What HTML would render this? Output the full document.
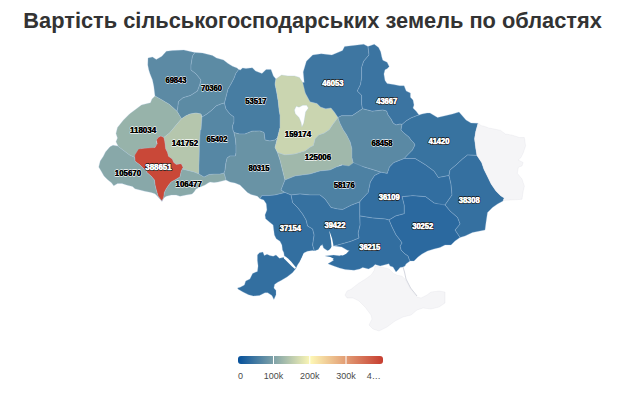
<!DOCTYPE html>
<html><head><meta charset="utf-8"><style>
html,body{margin:0;padding:0;background:#fff;width:620px;height:400px;overflow:hidden}
.t{position:absolute;left:0;top:0;width:620px;text-align:center;font:bold 21.8px "Liberation Sans",sans-serif;color:#333;white-space:nowrap}
svg{position:absolute;left:0;top:0}
polygon{stroke:#a9c6e2;stroke-width:1;stroke-opacity:0.28;stroke-linejoin:round}
polygon.wt{fill:#fff;stroke:none}
polygon.g{fill:#f5f5f7;stroke:#c9cbd5;stroke-width:0.6}
text{font:bold 9px "Liberation Sans",sans-serif;text-anchor:middle;paint-order:stroke;stroke-linejoin:round}
text.b{fill:#000;stroke:#fff;stroke-width:1.5;stroke-opacity:0.9}
text.w{fill:#fff;stroke:#000;stroke-width:1.8}
text.w2{fill:#fff;stroke:#fff;stroke-width:0.35}
text.b2{fill:#000;stroke:#000;stroke-width:0.15}
.lg{font:9px "Liberation Sans",sans-serif;fill:#4a4a4a;stroke:none}
</style></head><body>
<div class="t" style="top:7.9px;left:2.6px">Вартість сільськогосподарських земель по областях</div>
<svg width="620" height="400" viewBox="0 0 620 400">
<defs><linearGradient id="gr" x1="0" x2="1" y1="0" y2="0">
<stop offset="0" stop-color="#05509b"/><stop offset="0.5" stop-color="#fdf7b5"/><stop offset="1" stop-color="#c63d30"/></linearGradient></defs>
<polygon points="148,58 152.5,57 156.3,59.4 161.9,56.3 166.3,51.3 172.5,50.6 183.8,50 192.5,52 195,52.5 192.5,56 191,65 191,70 196,73.8 201,80 200,84 197.5,91 190.5,95.5 183,97.8 178.5,101.5 177.8,107.5 177,111.3 169.5,104.5 162,100 155,96 153.8,86.3 152.5,80 150,73.8 148.8,70 147.8,65" fill="#5c8aa4"/>
<polygon points="195,52.5 202.5,53.1 212.5,55.6 216.5,58 223.5,60 228,63.4 232.5,66.2 237,67.9 238.7,69.6 235.8,73.5 234.2,78 231.3,83.6 228,89.2 226.3,96 224.5,103 221,104 216,106 212,110 207,114 202,117 201,114 196,113 190,114 186,115.8 181.5,118.8 177,111.3 177.8,107.5 178.5,101.5 183,97.8 190.5,95.5 197.5,91 200,84 201,80 196,73.8 191,70 191,65 192.5,56" fill="#5c8ba4"/>
<polygon points="155,96 152,99 150.5,102.75 141.5,105 135.5,109.5 129.5,114 123.5,120 117.5,127.5 116,133.5 117.5,138 116,141.75 118.25,146.25 117.5,146 123.5,150.5 129.5,155 134.7,157.5 137.5,152.5 141.25,148.75 148.75,148.75 154.4,147.8 157.2,145 156.25,141.25 158.1,137.5 160.9,136 163.75,137.5 169.5,133 177,124 181.5,118.8 177,111.3 169.5,104.5 162,100" fill="#97b3aa"/>
<polygon points="181.5,118.8 186,115.8 190,114 196,113 201,114 202,118 201,130 200.3,130 199.5,145 199,165 199,174 194,172 190,171 186,170 182,169 183.1,167.5 181.25,163.75 176.25,164.4 173.75,162.5 172.2,159 168.4,156.25 167.5,152.5 165.6,148.75 164.7,141.25 163.75,137.5 169.5,133 177,124" fill="#b5c6ad"/>
<polygon points="158.1,137.5 160.9,136 163.75,137.5 164.7,141.25 165.6,148.75 167.5,152.5 168.4,156.25 172.2,159 173.75,162.5 176.25,164.4 181.25,163.75 183.1,167.5 181.25,171.25 180,176.9 175,180 171.25,181.9 168.75,185 166.25,188.75 164.4,192.5 163.75,197.5 161.9,201.25 158.1,196.25 156.25,190 155,185 154.4,180 151.25,176.25 146.9,172.5 146.25,170.6 143.75,168.75 140,165 135,161.25 134.7,157.5 134.75,155 138.5,149 144.5,148.25 155,147.5 157.25,143.75 156.5,140" fill="#c94838"/>
<polygon points="117.5,146 123.5,150.5 129.5,155 134.7,157.5 135,161.25 140,165 143.75,168.75 146.25,170.6 146.9,172.5 151.25,176.25 154.4,180 155,185 156.25,190 158.1,196.25 161.9,201.25 157.5,196.25 155,193.75 151.25,192.5 145,191.25 140,190 135,188.75 132.5,186.5 126.5,185 122,183.5 117.5,183.5 113.75,185.75 111.5,182.75 107.75,179.75 104,176 101,170.75 98.75,167 100.25,161 103.25,156.5 105.5,152 110,146.75 113,145.25" fill="#88a8a9"/>
<polygon points="183.1,167.5 182,169 186,170 190,171 194,172 199,174 204,177 209,174.5 214,174 220,174 224,173 225,176 226,180 222,181 218,182 214,182.5 210,182 208,183 205,185 200,187 196,189 194,192 192,194 186,195 180,196.25 176.25,195 171.25,195 166.25,196.25 163.75,198 161.9,201.25 163.75,197.5 164.4,192.5 166.25,188.75 168.75,185 171.25,181.9 175,180 180,176.9 181.25,171.25" fill="#89a9a9"/>
<polygon points="202,117 207,114 212,110 216,106 221,104 224.5,103 226,109 230,114 234,117 234,122 232.5,126 233,130 234,132.6 235.4,138.8 236,145.6 236,152.5 235.4,156 229.9,156 227.1,158 225.8,163.5 225,170.4 224,173 220,174 214,174 209,174.5 204,177 199,174 199,165 199.5,145 200.3,130 201,130 202,118" fill="#5687a4"/>
<polygon points="238.7,69.6 240.3,70.1 242.6,67.9 246,68.4 252.3,67.8 255.5,71 262,73.5 266.1,69.4 271,69.4 273.4,75.9 275.9,79.1 275,84 276.7,92.2 278.3,101.9 279.1,110 280,115 280,127.5 277.5,137.5 275,140 270,141 265,140 264,132.5 260,131 252,131.2 245,134 239.5,134 234,132.6 233,130 232.5,126 234,122 234,117 230,114 226,109 224.5,103 226.3,96 228,89.2 231.3,83.6 234.2,78 235.8,73.5" fill="#477da2"/>
<polygon points="234,132.6 239.5,134 245,134 252,131.2 260,131 264,132.5 265,140 270,141 275,140 277.5,137.5 275,147.5 277.5,152.5 280,160 282.5,170 285,180 281,190 285,192.5 280,193.75 275,195 268.75,195.6 261.9,195.6 260,198.75 257.5,196.25 251,194.4 247.5,192.5 243.75,188.75 240,185 235,183 230,182 226,180 225,176 224,173 225,170.4 225.8,163.5 227.1,158 229.9,156 235.4,156 236,152.5 236,145.6 235.4,138.8" fill="#6993a5"/>
<polygon points="275.9,79.1 281.5,75.1 288,75.9 294.6,75.9 299.4,77.5 302.7,82.4 304.2,82.5 305.3,93.1 310,101.75 317,103.5 320.5,107 325.75,108.75 331,107.9 334.5,112.25 338,117.5 335.4,121 332.75,124.5 329.25,129.75 324,133.25 318.75,135 315.25,138.5 313.5,145.5 310,147.25 305,151 295,154 285,155 277.5,152.5 275,147.5 277.5,137.5 280,127.5 280,115 279.1,110 278.3,101.9 276.7,92.2 275,84" fill="#cad5b0"/>
<polygon points="277.5,152.5 285,155 295,154 305,151 310,147.25 313.5,145.5 315.25,138.5 318.75,135 324,133.25 329.25,129.75 332.75,124.5 335.4,121 338,117.5 339.75,122.75 343.25,129.75 346.75,135 350.25,142 352,149 352,157.75 353.75,164.75 350.25,167.4 341.5,164.75 336.4,167 330,170 320,171 310,174 295,176 285,180 282.5,170 280,160" fill="#a0b8ab"/>
<polygon points="302.7,82.4 304.2,82.5 303.2,71.9 306.4,61.2 312.7,54.9 321.2,53.8 331.9,54.9 342.5,50.6 344.6,46.4 355.2,45.3 363.7,44.2 368,46.4 369,54.9 363.7,61.2 361.6,67.6 361.6,78.2 360.5,84.6 357.3,91 361.6,95.2 361.6,103.7 362.5,108.75 357.25,112.25 352,115.75 341.5,115.75 338,117.5 334.5,112.25 331,107.9 325.75,108.75 320.5,107 317,103.5 310,101.75 305.3,93.1" fill="#3e76a1"/>
<polygon points="368,46.4 374.3,44.2 378.6,47.4 380.7,51.7 381.8,57 382.8,60.2 387.1,62.3 389.2,66.5 387.1,68.7 385,69.7 383.9,74 385,80.4 387.1,83.5 393.5,84.6 399.8,85.7 404.1,85.7 406.2,91 410.4,93.1 410.4,97.3 413,100 414,105 413,108 416,111 419,115 416,116 411,118 406,121 402,124.5 400,124 396,125 393,123 391,119 388,115 386.5,111 382.8,110.1 372.2,111.2 362.5,108.75 361.6,103.7 361.6,95.2 357.3,91 360.5,84.6 361.6,78.2 361.6,67.6 363.7,61.2 369,54.9" fill="#3b74a1"/>
<polygon points="338,117.5 341.5,115.75 352,115.75 357.25,112.25 362.5,108.75 372.2,111.2 382.8,110.1 386.5,111 388,115 391,119 393,123 396,125 400,124 402,124.5 401,130 404,133 409,137 411,140 414,143 415,145 412.5,150 407.5,155 404.3,158.5 393.7,162.7 389.5,167 387.3,173.4 381,172.3 374.6,170.2 364,167 353.75,164.75 352,157.75 352,149 350.25,142 346.75,135 343.25,129.75 339.75,122.75" fill="#5a89a4"/>
<polygon points="419,115 422,114 427,113 430,113 437.5,117.5 444,116 452.5,114 459,112 462.5,116 466,120 471,123 478,123.3 475.7,131.6 474.5,138.75 475.7,148.25 476.9,155.4 467.5,155 462.5,159 456,165 450,170 449,175.5 438.3,177.6 434.1,171.2 425.6,164.9 415,158.5 404.3,158.5 407.5,155 412.5,150 415,145 414,143 411,140 409,137 404,133 401,130 402,124.5 406,121 411,118 416,116" fill="#3873a0"/>
<polygon points="285,180 295,176 310,174 320,171 330,170 336.4,167 342.7,165 349,166 353.4,162.7 364,167 374.6,170.2 381,172.3 374.6,175.5 370.4,182 368.2,192.5 362,199 359.7,202 351.2,205.2 342.7,209.5 337.5,209 331,207.5 325,199 320,195 310,195 300,194 291,195 285,192.5 281,190" fill="#4d81a3"/>
<polygon points="381,172.3 387.3,173.4 389.5,167 393.7,162.7 404.3,158.5 415,158.5 425.6,164.9 434.1,171.2 438.3,177.6 449,175.5 451,184 452,195 445,205 442.6,205.2 434.1,203.1 425.6,196.7 412.8,195.7 402.2,196.7 404.3,205.2 404.3,213.7 395.8,215.9 389,220 385.2,219 372.5,218 359.7,215.9 359.7,202 362,199 368.2,192.5 370.4,182 374.6,175.5" fill="#326ea0"/>
<polygon points="449,175.5 450,170 456,165 462.5,159 467.5,155 476.9,155.4 481.6,162.5 484,169.6 487.6,176.8 491.1,183.9 495.9,191 500.6,195.8 504.2,198.1 503,201 497.5,204 492.5,207.5 487.5,212.5 486,222.5 485,230 480,231 472.5,232.5 465,236 460,237.5 459,236 455,230 460,224 457.5,217.5 450,211 445,205 452,195 451,184" fill="#3570a0"/>
<polygon points="402.2,196.7 412.8,195.7 425.6,196.7 434.1,203.1 445,205 450,211 457.5,217.5 460,224 455,230 459,236 460,237.5 455,241 451,245 445,245 440,247.5 434,249 427.5,251 422,254 418,257 416,259 414,261 410,261 409,259 408,256 405,254 401,250 400,246 402,243 400,240 396,235 392,227 389,220 395.8,215.9 404.3,213.7 404.3,205.2" fill="#2b699f"/>
<polygon points="359.7,215.9 372.5,218 385.2,219 389,220 392,227 396,235 400,240 402,243 400,246 401,250 405,254 408,256 409,259 410,261 406,264 405,266 403,267 400,267.5 398,270 396,272 393,267 390,266 388.9,263.8 386,264.5 380.2,266 375.1,264.5 372.9,266.7 368.5,268.9 362.7,267.4 359.8,268.9 354,270.3 345.3,269.6 339.5,268.1 333.7,266 327.9,263.8 333.7,260.2 329.4,259.4 325,260.9 324.8,256 333.7,255.1 339.5,255.8 345.3,252.9 348.2,250.7 341.7,247 334.5,246.1 339.4,244.5 350.8,241.3 358.9,238 358.1,233.1 360,225" fill="#326ea0"/>
<polygon points="291,195 300,194 310,195 320,195 325,199 331,207.5 337.5,209 342.7,209.5 351.2,205.2 359.7,202 359.7,215.9 360,225 358.1,233.1 358.9,238 350.8,241.3 339.4,244.5 333.7,246.1 331.3,247.8 328,251 323.1,247.8 322.3,244.5 320.7,246.1 318.3,249.4 315,251 314,250 312.5,245 314,235 312.5,229 307.5,226 306,220 302.5,214 297.5,207.5 292.5,202.5" fill="#3671a0"/>
<polygon points="261.9,195.6 268.75,195.6 275,195 280,193.75 285,192.5 291,195 292.5,202.5 297.5,207.5 302.5,214 306,220 307.5,226 312.5,229 314,235 312.5,245 314,250 315,251 312.5,250.6 307.5,251.25 303.75,253.1 302.5,256.25 300,261.25 297.5,265 295.9,268.6 292.5,272.7 287,276.9 281.5,280.3 277.3,282.4 274.6,284.4 273.9,287.9 276,290.6 276,294.7 273.9,299.5 271.9,295.4 267.7,292.7 265,292.7 259.5,295.4 253.3,296.1 248.5,294.7 243,292 238.2,289.2 237.5,287.9 240.2,287.2 244.4,285.1 245.7,281 249.9,278.9 252.6,273.4 257.4,271.4 258.1,265.9 257.4,260.4 257.4,254.9 259.5,252.8 262.9,252.1 264.3,255.6 267,254.2 269.8,255.6 273.2,256.2 276,254.9 279.4,258.3 282.8,257.6 284.5,257 283.75,252.5 282.5,250 281.9,245 280,241.25 276.25,238.75 274.4,235 273.75,230 273.1,225 270,222.5 265.6,218.75 265,215 266.9,210 266.25,203.75 263.75,200 260,198.75" fill="#336fa0"/>
<polygon class="g" points="478,123.3 481.6,125.7 485,126.5 488.8,128 495.9,129.3 500.6,130.4 505.4,134 512.5,135.2 519.6,137.6 524.4,137.6 525.6,145.9 523.2,153 520.8,157.8 518.4,160.1 523.2,162.5 522,166 518.4,167.3 517.3,173.2 522,179.1 524.4,186.3 523.2,191 522,199.3 503,200.5 504.2,198.1 500.6,195.8 495.9,191 491.1,183.9 487.6,176.8 484,169.6 481.6,162.5 476.9,155.4 475.7,148.25 474.5,138.75 475.7,131.6"/>
<polygon class="g" points="345,295 347,291 351.1,289.2 358.4,283.4 365.6,279 371.4,274.7 374.3,270.3 375,266 383,267.4 388.9,268.9 393.2,273.2 397.6,275.4 401.9,276.1 404.8,279 407.7,283.4 410.6,289.2 417,297 421,298 427,295 431,292 439,291 445,292 445,303 439,307 431,309 423,308 417,310 411,315 403,317 395,321 387,327 379,331 373,329 369,325 372,319 371,315 365,307 359,301 353,298 347,298"/>
<polygon class="wt" points="318.6,250.3 319.7,248.1 320.8,245.3 321.5,248.5 323,245.3 323.6,250.3 327,250.9 330.4,249.8 331.5,246.4 331,240.8 329.8,234 329.3,230.6 332.1,238.5 333.2,244.1 333.8,248.6 337.1,250.9 341.7,252 345,251.5 349.5,250.3 346.2,253.7 342.8,255.4 338.3,254.8 333.8,254.3 328.1,253.7 322.5,253.7 324.8,256 330.4,257.1 333.8,258.8 331.5,261 328.1,262.1 325,260.9 327.9,263.8 322,266 300,272 300,262 303.4,254.3 306.8,252 311.3,251.5 314.6,250.9"/>
<polygon class="wt" points="283.5,256 285.5,256.5 288,258.5 291,261.5 293.5,264.5 296,267.5 295,269 292,266.5 289,263.5 286,260.5 284,258.5"/>
<polyline points="403,267 404.5,272 406,279 410.6,288 417,296" fill="none" stroke="#c9cbd5" stroke-width="0.8"/>
<polygon points="294.4,110 296.25,106.25 299,107.2 302.8,105.3 306.6,105.3 308.4,108.1 305.6,111.9 304.7,117.5 303.75,123.1 301.9,126.9 301,122.2 299,117.5 295.3,113.75" fill="#ffffff" stroke="#d8dde3" stroke-width="0.5"/>
<text class="b" x="176" y="82.7" textLength="21.2" lengthAdjust="spacingAndGlyphs">69843</text>
<text class="b2" x="176" y="82.7" textLength="21.2" lengthAdjust="spacingAndGlyphs">69843</text>
<text class="b" x="211.5" y="91.2" textLength="21.2" lengthAdjust="spacingAndGlyphs">70360</text>
<text class="b2" x="211.5" y="91.2" textLength="21.2" lengthAdjust="spacingAndGlyphs">70360</text>
<text class="b" x="255.8" y="103.9" textLength="21.2" lengthAdjust="spacingAndGlyphs">53517</text>
<text class="b2" x="255.8" y="103.9" textLength="21.2" lengthAdjust="spacingAndGlyphs">53517</text>
<text class="b" x="297.9" y="136.7" textLength="26.3" lengthAdjust="spacingAndGlyphs">159174</text>
<text class="b2" x="297.9" y="136.7" textLength="26.3" lengthAdjust="spacingAndGlyphs">159174</text>
<text class="w" x="332.9" y="85.7" textLength="21.2" lengthAdjust="spacingAndGlyphs">46053</text>
<text class="w2" x="332.9" y="85.7" textLength="21.2" lengthAdjust="spacingAndGlyphs">46053</text>
<text class="w" x="386.75" y="104.45" textLength="21.2" lengthAdjust="spacingAndGlyphs">43667</text>
<text class="w2" x="386.75" y="104.45" textLength="21.2" lengthAdjust="spacingAndGlyphs">43667</text>
<text class="b" x="143.1" y="133.1" textLength="26.3" lengthAdjust="spacingAndGlyphs">118034</text>
<text class="b2" x="143.1" y="133.1" textLength="26.3" lengthAdjust="spacingAndGlyphs">118034</text>
<text class="b" x="185" y="145.6" textLength="26.3" lengthAdjust="spacingAndGlyphs">141752</text>
<text class="b2" x="185" y="145.6" textLength="26.3" lengthAdjust="spacingAndGlyphs">141752</text>
<text class="b" x="217" y="142.1" textLength="21.2" lengthAdjust="spacingAndGlyphs">65402</text>
<text class="b2" x="217" y="142.1" textLength="21.2" lengthAdjust="spacingAndGlyphs">65402</text>
<text class="b" x="259" y="170.6" textLength="21.2" lengthAdjust="spacingAndGlyphs">80315</text>
<text class="b2" x="259" y="170.6" textLength="21.2" lengthAdjust="spacingAndGlyphs">80315</text>
<text class="b" x="317.9" y="160.2" textLength="26.3" lengthAdjust="spacingAndGlyphs">125006</text>
<text class="b2" x="317.9" y="160.2" textLength="26.3" lengthAdjust="spacingAndGlyphs">125006</text>
<text class="b" x="382" y="146.3" textLength="21.2" lengthAdjust="spacingAndGlyphs">68458</text>
<text class="b2" x="382" y="146.3" textLength="21.2" lengthAdjust="spacingAndGlyphs">68458</text>
<text class="w" x="439" y="144.2" textLength="21.2" lengthAdjust="spacingAndGlyphs">41420</text>
<text class="w2" x="439" y="144.2" textLength="21.2" lengthAdjust="spacingAndGlyphs">41420</text>
<text class="w" x="158.5" y="170.3" textLength="26.3" lengthAdjust="spacingAndGlyphs">388651</text>
<text class="w2" x="158.5" y="170.3" textLength="26.3" lengthAdjust="spacingAndGlyphs">388651</text>
<text class="b" x="127.9" y="176.45" textLength="26.3" lengthAdjust="spacingAndGlyphs">105670</text>
<text class="b2" x="127.9" y="176.45" textLength="26.3" lengthAdjust="spacingAndGlyphs">105670</text>
<text class="b" x="188.75" y="186.8" textLength="26.3" lengthAdjust="spacingAndGlyphs">106477</text>
<text class="b2" x="188.75" y="186.8" textLength="26.3" lengthAdjust="spacingAndGlyphs">106477</text>
<text class="b" x="344.25" y="188.1" textLength="21.2" lengthAdjust="spacingAndGlyphs">58176</text>
<text class="b2" x="344.25" y="188.1" textLength="21.2" lengthAdjust="spacingAndGlyphs">58176</text>
<text class="w" x="389.25" y="200.3" textLength="21.2" lengthAdjust="spacingAndGlyphs">36109</text>
<text class="w2" x="389.25" y="200.3" textLength="21.2" lengthAdjust="spacingAndGlyphs">36109</text>
<text class="w" x="469.25" y="202.8" textLength="21.2" lengthAdjust="spacingAndGlyphs">38308</text>
<text class="w2" x="469.25" y="202.8" textLength="21.2" lengthAdjust="spacingAndGlyphs">38308</text>
<text class="w" x="290.4" y="231.1" textLength="21.2" lengthAdjust="spacingAndGlyphs">37154</text>
<text class="w2" x="290.4" y="231.1" textLength="21.2" lengthAdjust="spacingAndGlyphs">37154</text>
<text class="w" x="335" y="227.8" textLength="21.2" lengthAdjust="spacingAndGlyphs">39422</text>
<text class="w2" x="335" y="227.8" textLength="21.2" lengthAdjust="spacingAndGlyphs">39422</text>
<text class="w" x="369.75" y="249.7" textLength="21.2" lengthAdjust="spacingAndGlyphs">36215</text>
<text class="w2" x="369.75" y="249.7" textLength="21.2" lengthAdjust="spacingAndGlyphs">36215</text>
<text class="w" x="422.75" y="229.2" textLength="21.2" lengthAdjust="spacingAndGlyphs">30252</text>
<text class="w2" x="422.75" y="229.2" textLength="21.2" lengthAdjust="spacingAndGlyphs">30252</text>
<rect x="238" y="356" width="145" height="8" rx="3" fill="url(#gr)"/>
<line x1="273.5" y1="356" x2="273.5" y2="364" stroke="#fff" stroke-width="1"/>
<line x1="309.75" y1="356" x2="309.75" y2="364" stroke="#fff" stroke-width="1"/>
<line x1="346" y1="356" x2="346" y2="364" stroke="#fff" stroke-width="1"/>
<text class="lg" x="238" y="379" style="text-anchor:start">0</text>
<text class="lg" x="273.5" y="379">100k</text>
<text class="lg" x="309.75" y="379">200k</text>
<text class="lg" x="346" y="379">300k</text>
<text class="lg" x="366.7" y="379" style="text-anchor:start">4…</text>
</svg>
</body></html>
